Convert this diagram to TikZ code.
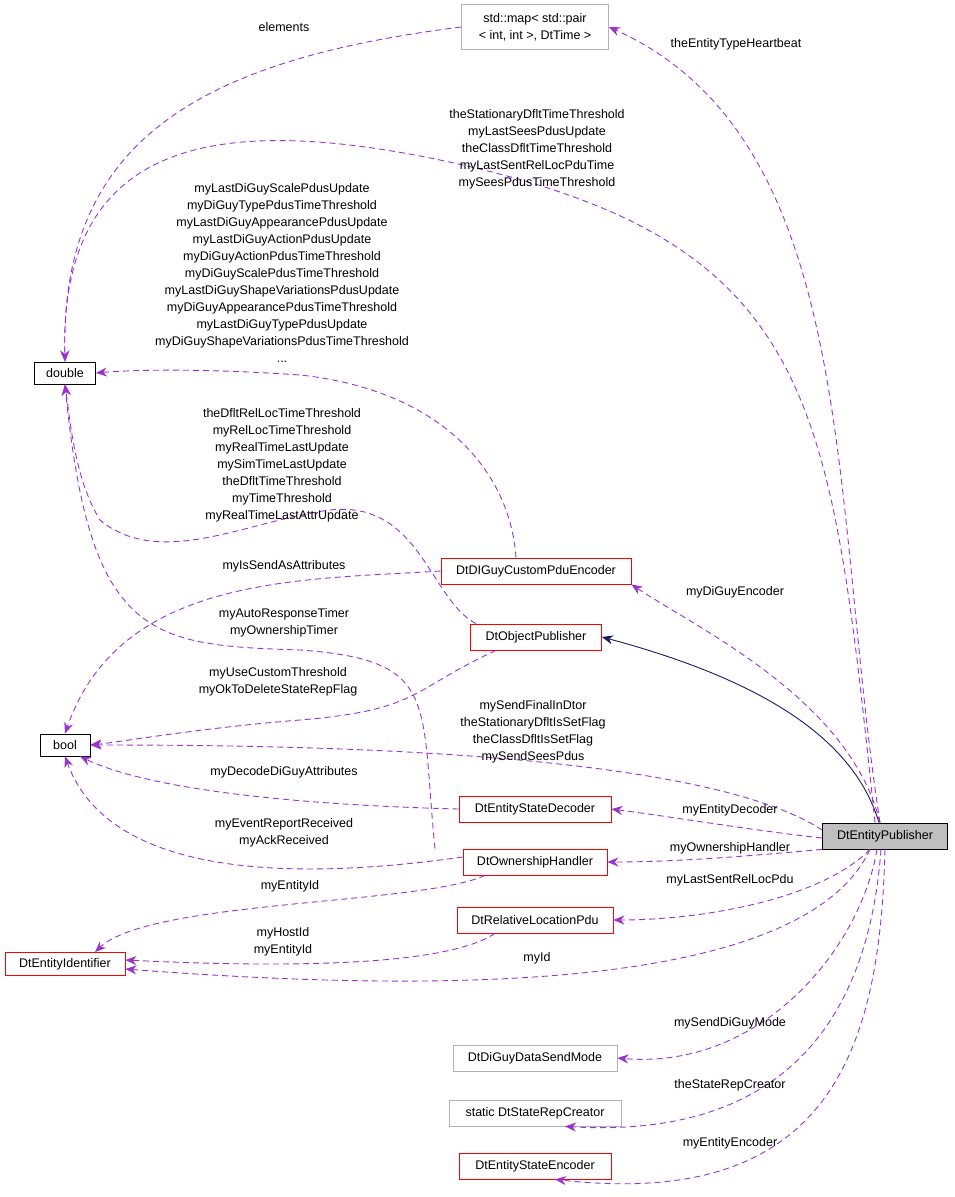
\documentclass[tikz,border=0pt]{standalone}
\usepackage{fontspec}
\setmainfont{Liberation Sans}
\usetikzlibrary{arrows.meta,positioning}
\definecolor{edgepurple}{rgb}{0.6, 0.2, 0.8}
\definecolor{inhnavy}{rgb}{0.1, 0.1, 0.4}
\tikzset{
  cls/.style={draw=red, line width=0.8pt, fill=white, inner xsep=8pt, inner ysep=3pt, minimum height=26pt, font=\fontsize{12.5}{14}\selectfont},
  ext/.style={cls, draw=black!30},
  plain/.style={cls, draw=black, minimum height=22pt},
  rel/.style={draw=edgepurple, dash pattern=on 6pt off 4pt, line width=0.9pt, -{Stealth[length=11pt,width=9pt]}},
  inh/.style={draw=inhnavy, line width=0.9pt, -{Stealth[length=11pt,width=9pt]}},
  lbl/.style={align=center, inner sep=0pt, font=\fontsize{12.5}{17}\selectfont}
}
\begin{document}
\begin{tikzpicture}[x=1pt,y=-1pt]
  \useasboundingbox (0,0) rectangle (955,1197);

  % classes
  \node[ext, align=center, font=\fontsize{12.5}{17}\selectfont, minimum width=147pt, minimum height=45pt] (map) at (535,27) {std::map\textless{} std::pair\\\textless{} int, int \textgreater, DtTime \textgreater};
  \node[plain, minimum width=61pt] (dbl) at (65,373) {double};
  \node[plain, minimum width=50pt] (bool) at (65,745) {bool};
  \node[cls, minimum width=120pt, minimum height=23pt] (eid) at (65,964) {DtEntityIdentifier};
  \node[cls, minimum width=190pt] (guyenc) at (536,571) {DtDIGuyCustomPduEncoder};
  \node[cls, minimum width=131pt] (objpub) at (536,637) {DtObjectPublisher};
  \node[cls, minimum width=152pt] (esdec) at (535,809) {DtEntityStateDecoder};
  \node[cls, minimum width=144pt] (ownh) at (535,862) {DtOwnershipHandler};
  \node[cls, minimum width=156pt] (rlpdu) at (535,920) {DtRelativeLocationPdu};
  \node[ext, minimum width=164pt] (sendmode) at (535,1058) {DtDiGuyDataSendMode};
  \node[ext, minimum width=172pt] (repcreator) at (535,1113) {static DtStateRepCreator};
  \node[cls, minimum width=152pt] (esenc) at (535,1166) {DtEntityStateEncoder};
  \node[cls, draw=black, fill=black!25, minimum width=125pt] (pub) at (885,836) {DtEntityPublisher};

  % inheritance
  \draw[inh] ([xshift=-6pt]pub.north) .. controls (860,760) and (800,690) .. (objpub.east);

  % members
  \draw[rel] ([xshift=-5pt]pub.north) .. controls (830,500) and (860,140) .. (map.east);
  \draw[rel] ([xshift=-10pt]pub.north) .. controls (830,400) and (820,240) .. (440,160)
     .. controls (200,110) and (60,150) .. (dbl.north);
  \draw[rel] (map.west) .. controls (200,60) and (60,140) .. (dbl.north);
  \draw[rel] ([xshift=-20pt]guyenc.north) .. controls (510,470) and (440,390) .. (300,375)
     .. controls (200,368) and (130,370) .. (dbl.east);
  \draw[rel] ([xshift=-60pt]objpub.north) .. controls (430,600) and (420,500) .. (330,510)
     .. controls (250,520) and (160,570) .. (100,520) .. controls (75,480) and (70,420) .. (dbl.south);
  \draw[rel] (guyenc.west) .. controls (300,580) and (120,575) .. (bool.north);
  \draw[rel] ([xshift=-100pt]ownh.north) .. controls (420,700) and (440,660) .. (300,650)
     .. controls (150,645) and (90,640) .. (dbl.south);
  \draw[rel] ([xshift=-40pt]objpub.south) .. controls (410,690) and (420,710) .. (300,720)
     .. controls (200,728) and (120,742) .. (bool.east);
  \draw[rel] ([yshift=6pt]pub.west) .. controls (700,750) and (300,745) .. (bool.east);
  \draw[rel] (esdec.west) .. controls (300,805) and (150,790) .. ([xshift=15pt]bool.south);
  \draw[rel] ([yshift=5pt]ownh.west) .. controls (300,880) and (110,880) .. (bool.south);
  \draw[rel] ([xshift=-50pt]ownh.south) .. controls (420,905) and (150,900) .. ([xshift=30pt]eid.north);
  \draw[rel] ([xshift=-40pt]rlpdu.south) .. controls (440,970) and (250,966) .. ([yshift=4pt]eid.east);
  \draw[rel] ([xshift=-15pt]pub.south) .. controls (800,1000) and (400,990) .. ([yshift=-5pt]eid.east);
  \draw[rel] ([xshift=-5pt]pub.north) .. controls (850,700) and (700,630) .. (guyenc.south east);
  \draw[rel] ([yshift=-2pt]pub.west) .. controls (750,830) and (680,818) .. (esdec.east);
  \draw[rel] (pub.south west) .. controls (760,855) and (680,862) .. (ownh.east);
  \draw[rel] ([xshift=-15pt]pub.south) .. controls (820,900) and (700,920) .. (rlpdu.east);
  \draw[rel] ([xshift=-8pt]pub.south) .. controls (860,950) and (760,1070) .. (sendmode.east);
  \draw[rel] ([xshift=-4pt]pub.south) .. controls (870,1000) and (800,1140) .. ([xshift=30pt]repcreator.south);
  \draw[rel] (pub.south) .. controls (880,1050) and (830,1210) .. ([xshift=20pt]esenc.south);

  % labels
  \node[lbl] (lheart) at (736,44) {theEntityTypeHeartbeat};
  \node[lbl] (lstat) at (537,149) {theStationaryDfltTimeThreshold\\myLastSeesPdusUpdate\\theClassDfltTimeThreshold\\myLastSentRelLocPduTime\\mySeesPdusTimeThreshold};
  \node[lbl] (lelem) at (284,27) {elements};
  \node[lbl] (lguy) at (282,273) {myLastDiGuyScalePdusUpdate\\myDiGuyTypePdusTimeThreshold\\myLastDiGuyAppearancePdusUpdate\\myLastDiGuyActionPdusUpdate\\myDiGuyActionPdusTimeThreshold\\myDiGuyScalePdusTimeThreshold\\myLastDiGuyShapeVariationsPdusUpdate\\myDiGuyAppearancePdusTimeThreshold\\myLastDiGuyTypePdusUpdate\\myDiGuyShapeVariationsPdusTimeThreshold\\...};
  \node[lbl] (lobj) at (282,465) {theDfltRelLocTimeThreshold\\myRelLocTimeThreshold\\myRealTimeLastUpdate\\mySimTimeLastUpdate\\theDfltTimeThreshold\\myTimeThreshold\\myRealTimeLastAttrUpdate};
  \node[lbl] (lsend) at (284,566) {myIsSendAsAttributes};
  \node[lbl] (ltimer) at (284,623) {myAutoResponseTimer\\myOwnershipTimer};
  \node[lbl] (lcust) at (278,682) {myUseCustomThreshold\\myOkToDeleteStateRepFlag};
  \node[lbl] (lfinal) at (533,732) {mySendFinalInDtor\\theStationaryDfltIsSetFlag\\theClassDfltIsSetFlag\\mySendSeesPdus};
  \node[lbl] (ldecode) at (284,772) {myDecodeDiGuyAttributes};
  \node[lbl] (levent) at (284,833) {myEventReportReceived\\myAckReceived};
  \node[lbl] (lentid) at (290,886) {myEntityId};
  \node[lbl] (lhost) at (283,942) {myHostId\\myEntityId};
  \node[lbl] (lid) at (537,958) {myId};
  \node[lbl] (lguyenc) at (735,592) {myDiGuyEncoder};
  \node[lbl] (ldec) at (730,810) {myEntityDecoder};
  \node[lbl] (lown) at (730,848) {myOwnershipHandler};
  \node[lbl] (lrel) at (730,880) {myLastSentRelLocPdu};
  \node[lbl] (lmode) at (730,1023) {mySendDiGuyMode};
  \node[lbl] (lrep) at (730,1085) {theStateRepCreator};
  \node[lbl] (lenc) at (730,1143) {myEntityEncoder};
\end{tikzpicture}
\end{document}
